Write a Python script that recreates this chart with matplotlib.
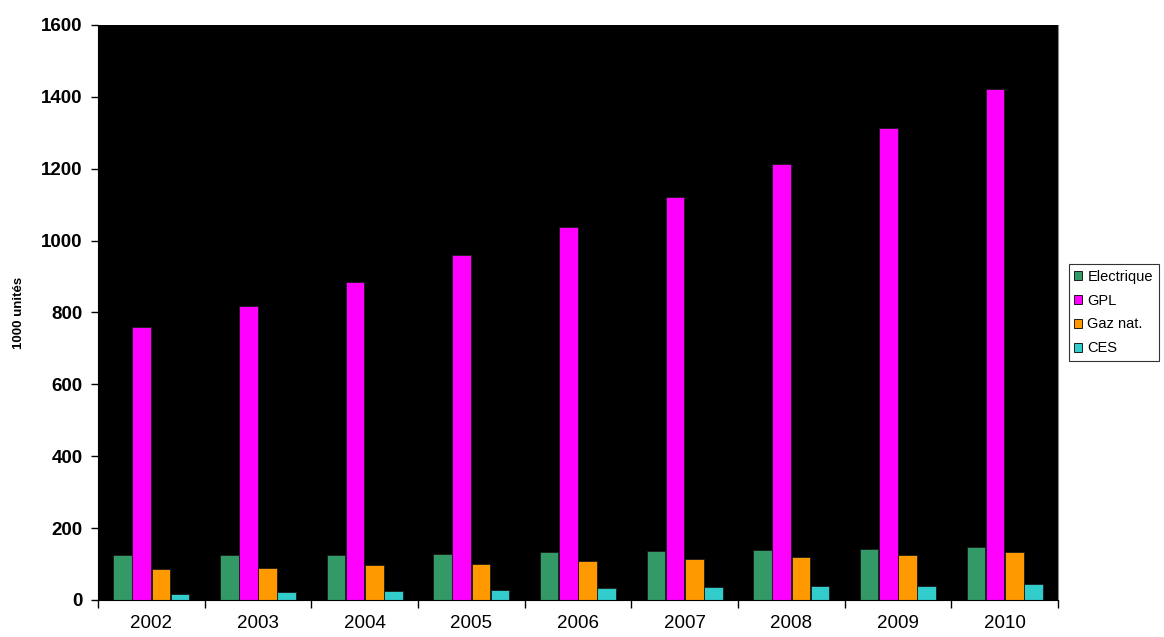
import matplotlib.pyplot as plt
import numpy as np

plt.rcParams["font.family"] = ["Liberation Sans", "DejaVu Sans"]

years = ["2002", "2003", "2004", "2005", "2006", "2007", "2008", "2009", "2010"]
electrique = [125, 125, 125, 129, 133, 136, 139, 143, 147]
gpl = [759, 819, 885, 961, 1037, 1121, 1214, 1314, 1421]
gaz_nat = [85, 89, 96, 100, 108, 114, 121, 125, 133]
ces = [17, 22, 26, 29, 33, 36, 40, 40, 44]

series = [
    ("Electrique", electrique, "#339966"),
    ("GPL", gpl, "#FF00FF"),
    ("Gaz nat.", gaz_nat, "#FF9900"),
    ("CES", ces, "#33CCCC"),
]

fig = plt.figure(figsize=(11.64, 6.37), dpi=100)
ax = fig.add_axes([0.0842, 0.0581, 0.8247, 0.9027])
ax.set_facecolor("black")

x = np.arange(len(years))
width = 0.18
for i, (name, vals, color) in enumerate(series):
    ax.bar(x + (i - 1.5) * width, vals, width * 0.97, color=color,
           edgecolor="#1a1a1a", linewidth=0.6, label=name)

ax.set_xlim(-0.5, len(years) - 0.5)
ax.set_ylim(0, 1600)
ax.set_yticks(range(0, 1601, 200))
ax.set_yticklabels([str(v) for v in range(0, 1601, 200)],
                   fontsize=13.5, fontweight="bold")

# ticks between categories, labels centred under each group
ax.set_xticks(np.arange(-0.5, len(years), 1.0))
ax.set_xticklabels([])
ax.set_xticks(x, minor=True)
ax.set_xticklabels(years, minor=True, fontsize=13.5)
ax.tick_params(axis="x", which="minor", length=0, pad=11)
ax.tick_params(axis="x", which="major", direction="out", length=6, width=1)
ax.tick_params(axis="y", direction="out", length=5, width=1, pad=6)

ax.set_ylabel("1000 unités", fontsize=9.5, fontweight="bold", labelpad=12)

ax.spines["top"].set_visible(False)
ax.spines["right"].set_color("#888888")
ax.spines["left"].set_color("black")
ax.spines["bottom"].set_color("black")

leg = ax.legend(loc="center left", bbox_to_anchor=(1.011, 0.5), fontsize=10.5,
                frameon=True, fancybox=False, edgecolor="black",
                handlelength=0.55, handleheight=0.55, handletextpad=0.35,
                labelspacing=0.68, borderpad=0.4, borderaxespad=0)
leg.get_frame().set_linewidth(0.8)
for h in leg.legend_handles:
    h.set_edgecolor("black")

fig.savefig("out.png", dpi=100)
